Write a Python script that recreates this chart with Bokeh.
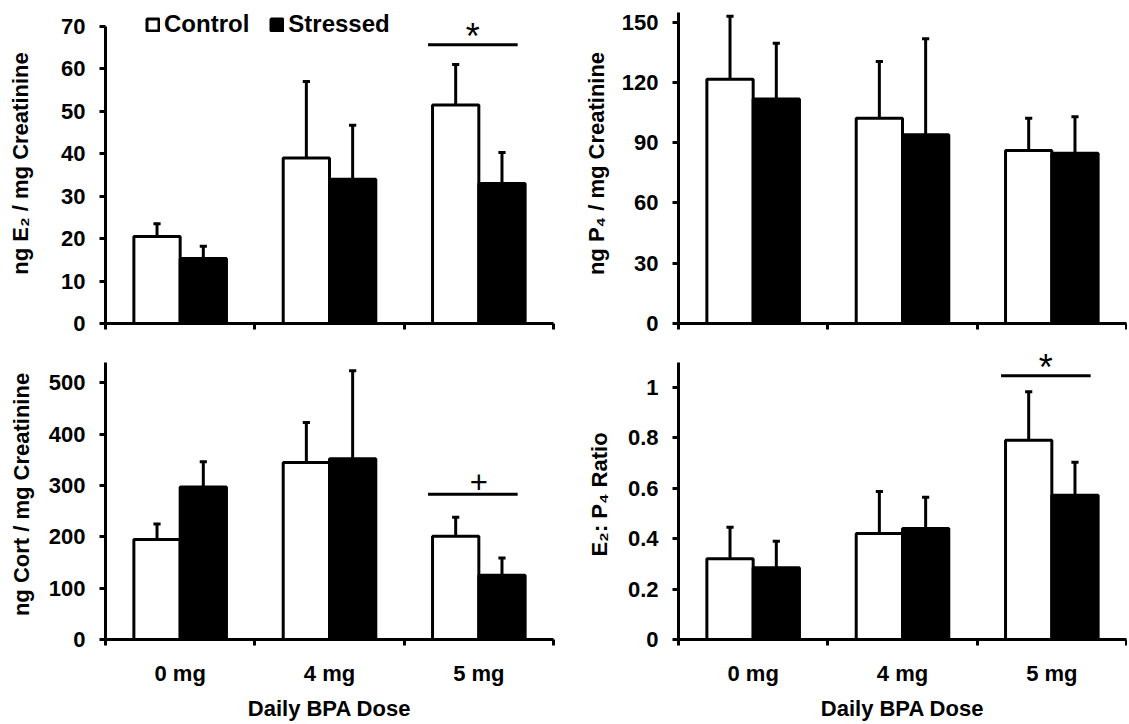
import numpy as np
from bokeh.plotting import figure
from bokeh.models import Range1d, FixedTicker, Legend, LegendItem
from bokeh.layouts import column, row
from bokeh.embed import file_html
from bokeh.resources import INLINE
from bokeh.core.properties import value

# ---------------- data ----------------
doses = ["0 mg", "4 mg", "5 mg"]
group_names = ["Control", "Stressed"]
x_title = "Daily BPA Dose"

e2_control = [20.5, 39.0, 51.5]
e2_control_err = [3.0, 18.0, 9.5]
e2_stressed = [15.3, 34.0, 33.0]
e2_stressed_err = [2.9, 12.7, 7.3]
e2_ticks = [0, 10, 20, 30, 40, 50, 60, 70]
e2_sig = {"dose": "5 mg", "level": 65.7, "mark": "*"}

p4_control = [121.6, 102.2, 86.1]
p4_control_err = [31.4, 28.2, 16.1]
p4_stressed = [111.8, 93.9, 84.8]
p4_stressed_err = [27.7, 47.8, 18.1]
p4_ticks = [0, 30, 60, 90, 120, 150]

cort_control = [195.0, 345.0, 201.0]
cort_control_err = [30.0, 78.0, 37.0]
cort_stressed = [297.0, 352.0, 125.0]
cort_stressed_err = [49.5, 171.7, 33.6]
cort_ticks = [0, 100, 200, 300, 400, 500]
cort_sig = {"dose": "5 mg", "level": 283.0, "mark": "+"}

ratio_control = [0.32, 0.42, 0.79]
ratio_control_err = [0.125, 0.167, 0.192]
ratio_stressed = [0.285, 0.44, 0.572]
ratio_stressed_err = [0.105, 0.124, 0.131]
ratio_ticks = [0, 0.2, 0.4, 0.6, 0.8, 1.0]
ratio_sig = {"dose": "5 mg", "level": 1.046, "mark": "*"}

FONT = "Liberation Sans"
FS = "22px"


def make_panel(control, control_err, stressed, stressed_err, ticks, axis_max,
               y_end, ylabel, label_standoff, width, height, borders,
               show_x, sig=None, legend=False):
    L, R, T, B = borders
    n = len(doses)
    p = figure(width=width, height=height, x_range=Range1d(0, n),
               y_range=Range1d(0, y_end), output_backend="svg",
               toolbar_location=None, min_border_left=L, min_border_right=R,
               min_border_top=T, min_border_bottom=B)
    p.background_fill_color = "white"
    p.border_fill_color = "white"
    p.outline_line_color = None
    p.xgrid.visible = False
    p.ygrid.visible = False

    centers = np.arange(n) + 0.5
    xc = centers - 0.155
    xs = centers + 0.155
    c = np.array(control, dtype=float)
    s = np.array(stressed, dtype=float)
    ctop = c + np.array(control_err, dtype=float)
    stop = s + np.array(stressed_err, dtype=float)
    cap = 0.024

    for xx, base, top in ((xc, c, ctop), (xs, s, stop)):
        p.segment(x0=xx, y0=base, x1=xx, y1=top, line_color="black", line_width=3)
        p.segment(x0=xx - cap, y0=top, x1=xx + cap, y1=top, line_color="black", line_width=3)

    rc = p.vbar(x=xc, top=c, width=0.31, bottom=0, fill_color="white",
                line_color="black", line_width=3)
    rs = p.vbar(x=xs, top=s, width=0.31, bottom=0, fill_color="black",
                line_color="black", line_width=3)

    # y axis
    yax = p.yaxis[0]
    yax.ticker = FixedTicker(ticks=ticks, minor_ticks=[])
    yax.bounds = (0, axis_max)
    yax.major_label_overrides = {t: f"{t:g}" for t in ticks}
    yax.axis_line_width = 3
    yax.axis_line_color = "black"
    yax.major_tick_line_width = 3
    yax.major_tick_line_color = "black"
    yax.major_tick_in = 0
    yax.major_tick_out = 6
    yax.minor_tick_line_color = None
    yax.major_label_standoff = 14
    yax.major_label_text_font = FONT
    yax.major_label_text_font_size = FS
    yax.major_label_text_font_style = "bold"
    yax.major_label_text_color = "black"
    yax.axis_label = ylabel
    yax.axis_label_text_font = FONT
    yax.axis_label_text_font_size = FS
    yax.axis_label_text_font_style = "bold"
    yax.axis_label_text_color = "black"
    yax.axis_label_standoff = label_standoff

    # x axis: ticks at category boundaries (minor), labels at centres
    xax = p.xaxis[0]
    bounds_ticks = list(range(n + 1))
    if show_x:
        xax.ticker = FixedTicker(ticks=list(centers), minor_ticks=bounds_ticks)
        xax.major_label_overrides = {float(cc): d for cc, d in zip(centers, doses)}
        xax.axis_label = x_title
    else:
        xax.ticker = FixedTicker(ticks=[], minor_ticks=bounds_ticks)
    xax.axis_line_width = 3
    xax.axis_line_color = "black"
    xax.major_tick_line_color = None
    xax.major_tick_in = 0
    xax.major_tick_out = 6
    xax.minor_tick_line_color = "black"
    xax.minor_tick_line_width = 3
    xax.minor_tick_in = 0
    xax.minor_tick_out = 6
    xax.major_label_standoff = 15
    xax.major_label_text_font = FONT
    xax.major_label_text_font_size = FS
    xax.major_label_text_font_style = "bold"
    xax.major_label_text_color = "black"
    xax.axis_label_text_font = FONT
    xax.axis_label_text_font_size = FS
    xax.axis_label_text_font_style = "bold"
    xax.axis_label_text_color = "black"
    xax.axis_label_standoff = 7

    if sig is not None:
        cx = doses.index(sig["dose"]) + 0.5
        lvl = sig["level"]
        p.segment(x0=[cx - 0.34], y0=[lvl], x1=[cx + 0.26], y1=[lvl],
                  line_color="black", line_width=3)
        if sig["mark"] == "*":
            p.text(x=[cx - 0.04], y=[lvl], text=[sig["mark"]], text_font=value(FONT),
                   text_font_size="36px", text_align="center",
                   text_baseline="alphabetic", y_offset=-8, text_color="black")
        else:
            p.text(x=[cx], y=[lvl], text=[sig["mark"]], text_font=value(FONT),
                   text_font_size="31px", text_align="center",
                   text_baseline="alphabetic", y_offset=-12, text_color="black")

    if legend:
        lg = Legend(items=[LegendItem(label=group_names[0], renderers=[rc]),
                           LegendItem(label=group_names[1], renderers=[rs])],
                    location=(40, 285), orientation="horizontal",
                    padding=0, margin=0, spacing=20, label_standoff=4,
                    glyph_width=15, glyph_height=15,
                    border_line_color=None, background_fill_alpha=0,
                    label_text_font=FONT, label_text_font_size="24px",
                    label_text_font_style="bold", label_text_color="black")
        p.add_layout(lg)
    return p


p1 = make_panel(e2_control, e2_control_err, e2_stressed, e2_stressed_err,
                e2_ticks, 70, 75.4, "ng E\u2082 / mg Creatinine", 25,
                568, 348, (105, 15, 3, 23), False, sig=e2_sig, legend=True)
p2 = make_panel(p4_control, p4_control_err, p4_stressed, p4_stressed_err,
                p4_ticks, 155, 159.3, "ng P\u2084 / mg Creatinine", 10,
                559, 348, (110, 1, 3, 25), False)
p3 = make_panel(cort_control, cort_control_err, cort_stressed, cort_stressed_err,
                cort_ticks, 540, 565, "ng Cort / mg Creatinine", 12,
                568, 375, (105, 15, 1, 78), True, sig=cort_sig)
p4 = make_panel(ratio_control, ratio_control_err, ratio_stressed, ratio_stressed_err,
                ratio_ticks, 1.1, 1.15, "E\u2082: P\u2084 Ratio", 13,
                559, 375, (110, 1, 1, 78), True, sig=ratio_sig)

layout = column(row(p1, p2), row(p3, p4))
open("out.html", "w").write(file_html(layout, INLINE))
